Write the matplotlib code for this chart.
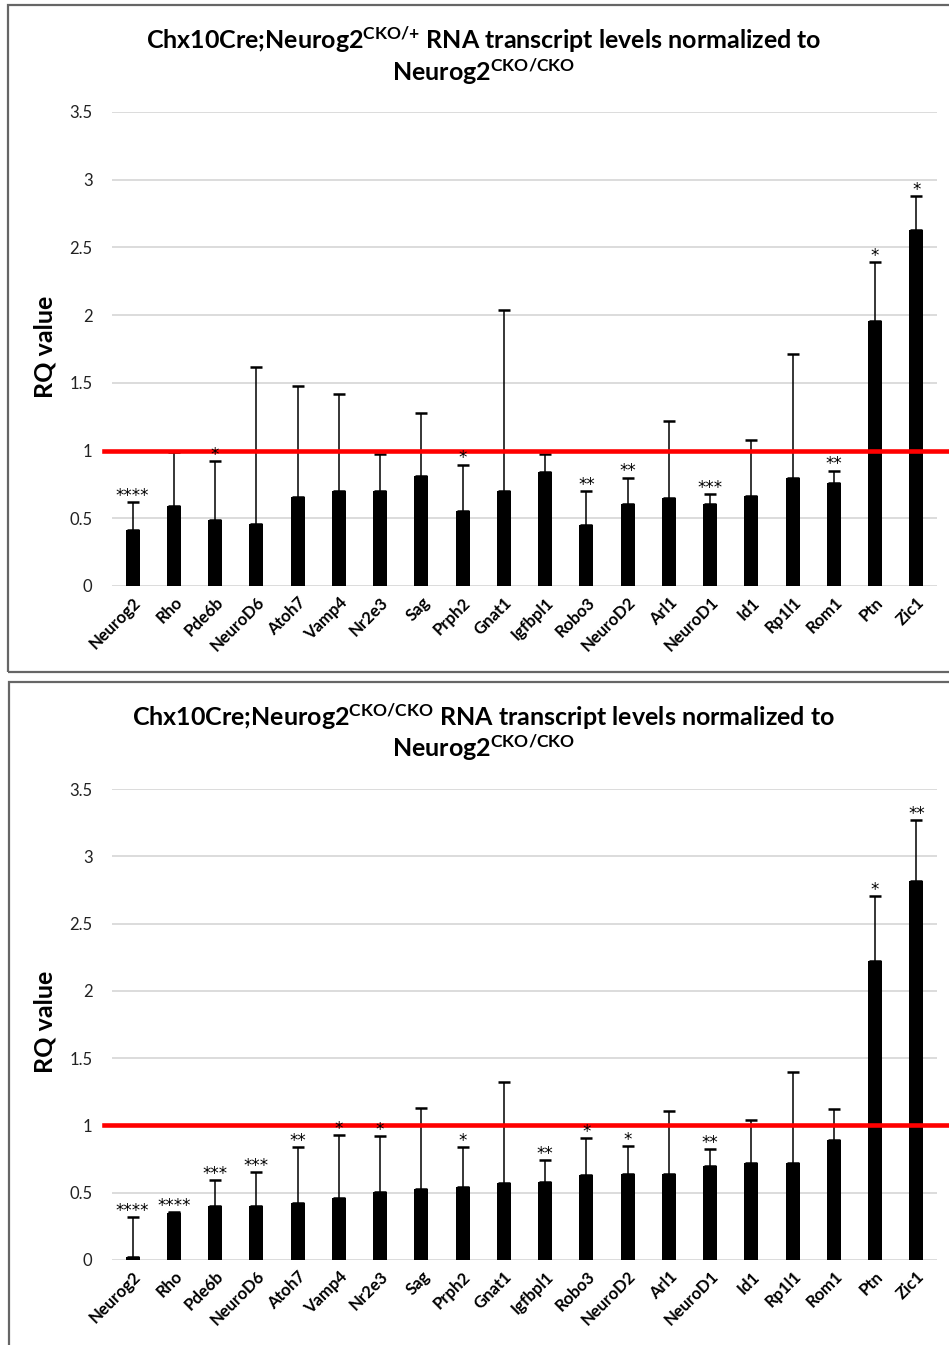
import numpy as np
import matplotlib
matplotlib.use('Agg')
import matplotlib.pyplot as plt
from matplotlib.patches import Rectangle

plt.rcParams['font.family'] = ['Lato', 'DejaVu Sans']
plt.rcParams['mathtext.fontset'] = 'custom'
plt.rcParams['mathtext.rm'] = 'Lato:bold'
plt.rcParams['mathtext.default'] = 'rm'

genes = ['Neurog2', 'Rho', 'Pde6b', 'NeuroD6', 'Atoh7', 'Vamp4', 'Nr2e3', 'Sag', 'Prph2', 'Gnat1',
         'Igfbpl1', 'Robo3', 'NeuroD2', 'Arl1', 'NeuroD1', 'Id1', 'Rp1l1', 'Rom1', 'Ptn', 'Zic1']

# Chx10Cre;Neurog2 CKO/+
rq_het = [0.41, 0.59, 0.49, 0.46, 0.66, 0.70, 0.70, 0.81, 0.556, 0.705,
          0.843, 0.447, 0.604, 0.651, 0.604, 0.661, 0.80, 0.762, 1.96, 2.63]
err_het = [0.21, 0.40, 0.43, 1.16, 0.815, 0.72, 0.275, 0.47, 0.34, 1.335,
           0.13, 0.256, 0.196, 0.57, 0.076, 0.42, 0.91, 0.09, 0.43, 0.25]
stars_het = ['****', '', '*', '', '', '', '', '', '*', '',
             '', '**', '**', '', '***', '', '', '**', '*', '*']

# Chx10Cre;Neurog2 CKO/CKO
rq_ko = [0.02, 0.35, 0.40, 0.40, 0.427, 0.462, 0.506, 0.53, 0.54, 0.574,
         0.582, 0.629, 0.639, 0.639, 0.698, 0.72, 0.72, 0.89, 2.225, 2.82]
err_ko = [0.30, 0.005, 0.195, 0.255, 0.41, 0.468, 0.412, 0.596, 0.297, 0.746,
          0.161, 0.274, 0.208, 0.47, 0.124, 0.32, 0.676, 0.229, 0.48, 0.447]
stars_ko = ['****', '****', '***', '***', '**', '*', '*', '', '*', '',
            '**', '*', '*', '', '**', '', '', '', '*', '**']

yticks = [0, 0.5, 1, 1.5, 2, 2.5, 3, 3.5]
ytick_labels = ['0', '0.5', '1', '1.5', '2', '2.5', '3', '3.5']

W, H = 949, 1345
fig = plt.figure(figsize=(W / 100, H / 100), dpi=100)


def px(x0, y0, x1, y1):
    # pixel box (from top-left) -> figure fraction [l, b, w, h]
    return [x0 / W, 1 - y1 / H, (x1 - x0) / W, (y1 - y0) / H]


# panel frames
for (fx0, fy0, fx1, fy1) in [(8, 5, 980, 672), (9, 682, 980, 1380)]:
    fig.patches.append(Rectangle((fx0 / W, 1 - fy1 / H), (fx1 - fx0) / W, (fy1 - fy0) / H,
                                 transform=fig.transFigure, fill=False,
                                 edgecolor='#666666', lw=1.6))


def draw_panel(box, vals, errs, stars, title1, title2, t_y1, t_y2, lab_y):
    ax = fig.add_axes(px(*box))
    x = np.arange(len(genes))
    ax.bar(x, vals, width=0.34, color='black', zorder=2)
    ax.errorbar(x, vals, yerr=[np.zeros(len(vals)), errs], fmt='none', ecolor='black',
                elinewidth=1.1, capsize=4, capthick=1.8, zorder=3)
    ax.plot([-0.69, 21], [1, 1], color='#ff0000', lw=3.3, zorder=4, clip_on=False)
    for xi, v, e, s in zip(x, vals, errs, stars):
        if s:
            ax.annotate(s, (xi, v + e), xytext=(0, -2), textcoords='offset points',
                        ha='center', va='bottom', fontsize=12, family='DejaVu Sans',
                        zorder=5)
    ax.set_xlim(-0.5, len(genes) - 0.5)
    ax.set_ylim(0, 3.5)
    ax.set_yticks(yticks)
    ax.set_yticklabels(ytick_labels, fontsize=12, color='#222222')
    ax.set_xticks(x)
    ax.set_xticklabels(genes, rotation=45, ha='right', rotation_mode='anchor',
                       fontsize=12, fontweight='bold')
    ax.tick_params(axis='y', length=0, pad=14)
    ax.tick_params(axis='x', length=0, pad=6)
    ax.grid(axis='y', color='#d9d9d9', lw=1.3, zorder=0)
    ax.set_axisbelow(True)
    for sp in ax.spines.values():
        sp.set_visible(False)
    fig.text(484 / W, 1 - t_y1 / H, title1, ha='center', va='center', fontsize=18, fontweight='bold')
    fig.text(484 / W, 1 - t_y2 / H, title2, ha='center', va='center', fontsize=18, fontweight='bold')
    fig.text(45 / W, 1 - lab_y / H, 'RQ value', rotation=90, ha='center', va='center',
             fontsize=18, fontweight='bold')
    return ax


draw_panel((112, 112, 937, 586), rq_het, err_het, stars_het,
           r'Chx10Cre;Neurog2$^{\text{CKO/+}}$ RNA transcript levels normalized to',
           r'Neurog2$^{\text{CKO/CKO}}$', 40, 72, 347)
draw_panel((112, 789, 937, 1260), rq_ko, err_ko, stars_ko,
           r'Chx10Cre;Neurog2$^{\text{CKO/CKO}}$ RNA transcript levels normalized to',
           r'Neurog2$^{\text{CKO/CKO}}$', 717, 748, 1022)

plt.savefig('out.png', dpi=100)
